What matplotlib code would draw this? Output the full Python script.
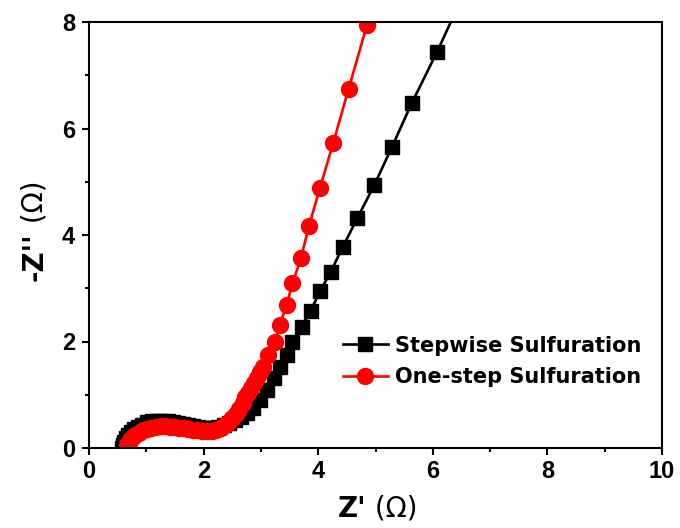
import matplotlib
matplotlib.use("Agg")
import matplotlib.pyplot as plt
from matplotlib.ticker import MultipleLocator

# Data
black_x = [0.58,0.59,0.61,0.64,0.68,0.73,0.79,0.86,0.93,1.01,1.10,1.19,1.28,1.37,1.46,1.55,1.64,1.73,1.82,1.91,
           1.98,2.06,2.15,2.25,2.35,2.45,2.55,2.65,2.76,2.87,2.98,3.10,3.22,3.33,3.45,3.55,3.71,3.87,4.03,4.22,
           4.43,4.68,4.98,5.29,5.63,6.07,6.55]
black_y = [0.00,0.06,0.12,0.18,0.24,0.30,0.35,0.40,0.44,0.48,0.50,0.51,0.51,0.50,0.49,0.47,0.45,0.43,0.41,0.39,
           0.38,0.37,0.38,0.40,0.43,0.47,0.52,0.58,0.66,0.75,0.90,1.09,1.31,1.53,1.75,2.00,2.28,2.58,2.94,3.31,
           3.78,4.31,4.94,5.66,6.47,7.43,8.55]
red_x = [0.66,0.67,0.69,0.72,0.76,0.81,0.87,0.94,1.01,1.09,1.17,1.25,1.33,1.41,1.49,1.57,1.65,1.73,1.81,1.89,
         1.97,2.06,2.14,2.22,2.30,2.37,2.44,2.50,2.56,2.62,2.68,2.73,2.78,2.83,2.88,2.94,2.99,3.04,3.13,3.25,
         3.33,3.45,3.55,3.70,3.84,4.03,4.26,4.53,4.85,5.20]
red_y = [0.00,0.05,0.10,0.15,0.20,0.25,0.29,0.33,0.36,0.38,0.40,0.41,0.41,0.40,0.39,0.38,0.37,0.35,0.34,0.33,
         0.32,0.31,0.32,0.34,0.38,0.43,0.49,0.56,0.64,0.73,0.84,0.95,1.04,1.13,1.22,1.32,1.42,1.53,1.75,2.00,
         2.31,2.69,3.09,3.57,4.17,4.88,5.72,6.74,7.94,9.20]
series_labels = ["Stepwise Sulfuration", "One-step Sulfuration"]
x_label_bold, x_label_unit = "Z'", " (Ω)"
y_label_bold, y_label_unit = "-Z''", " (Ω)"

plt.rcParams['font.family'] = ['Liberation Sans', 'DejaVu Sans']
wide_font = ['DejaVu Sans']

W, H = 680, 528
fig = plt.figure(figsize=(W / 100, H / 100), dpi=100)
ax = fig.add_axes([89 / W, 80 / H, 573 / W, 426 / H])

ax.plot(black_x, black_y, '-s', color='black', lw=1.9, ms=9.4, label=series_labels[0])
ax.plot(red_x, red_y, '-o', color='red', lw=1.9, ms=11.5, label=series_labels[1])

ax.set_xlim(0, 10)
ax.set_ylim(0, 8)
ax.xaxis.set_major_locator(MultipleLocator(2))
ax.xaxis.set_minor_locator(MultipleLocator(1))
ax.yaxis.set_major_locator(MultipleLocator(2))
ax.yaxis.set_minor_locator(MultipleLocator(1))
ax.tick_params(which='both', direction='out', width=1.5, top=False, right=False)
ax.tick_params(which='major', length=5, labelsize=17, pad=4, labelfontfamily='Liberation Sans')
ax.tick_params(axis='y', which='major', pad=5)
ax.tick_params(which='minor', length=3)
for lab in ax.get_xticklabels() + ax.get_yticklabels():
    lab.set_fontweight('bold')
for s in ax.spines.values():
    s.set_linewidth(1.5)

leg = ax.legend(loc='upper left', bbox_to_anchor=(0.428, 0.283), frameon=False,
                prop={'size': 15, 'weight': 'bold', 'family': wide_font},
                handlelength=2.2, handletextpad=0.3,
                labelspacing=0.55, borderaxespad=0)

# Axis labels: bold symbol + regular unit
fs_lab = 20
fig.canvas.draw()
r = fig.canvas.get_renderer()
tx1 = fig.text(0, 11 / H, x_label_bold, fontsize=fs_lab, fontweight='bold', family=wide_font,
               ha='left', va='baseline')
tx2 = fig.text(0, 11 / H, x_label_unit, fontsize=fs_lab, family=wide_font, ha='left', va='baseline')
w1 = tx1.get_window_extent(r).width
w2 = tx2.get_window_extent(r).width
cx = (89 + 662) / 2 + 2
x0 = cx - (w1 + w2) / 2
tx1.set_x(x0 / W)
tx2.set_x((x0 + w1) / W)

ty1 = fig.text(42 / W, 0, y_label_bold, fontsize=fs_lab, fontweight='bold', family=wide_font,
               rotation=90, rotation_mode='anchor', ha='left', va='baseline')
ty2 = fig.text(42 / W, 0, y_label_unit, fontsize=fs_lab, family=wide_font, rotation=90,
               rotation_mode='anchor', ha='left', va='baseline')
h1 = ty1.get_window_extent(r).height
h2 = ty2.get_window_extent(r).height
cy = H - 231
y0 = cy - (h1 + h2) / 2
ty1.set_y(y0 / H)
ty2.set_y((y0 + h1) / H)

fig.savefig('out.png', dpi=100)
